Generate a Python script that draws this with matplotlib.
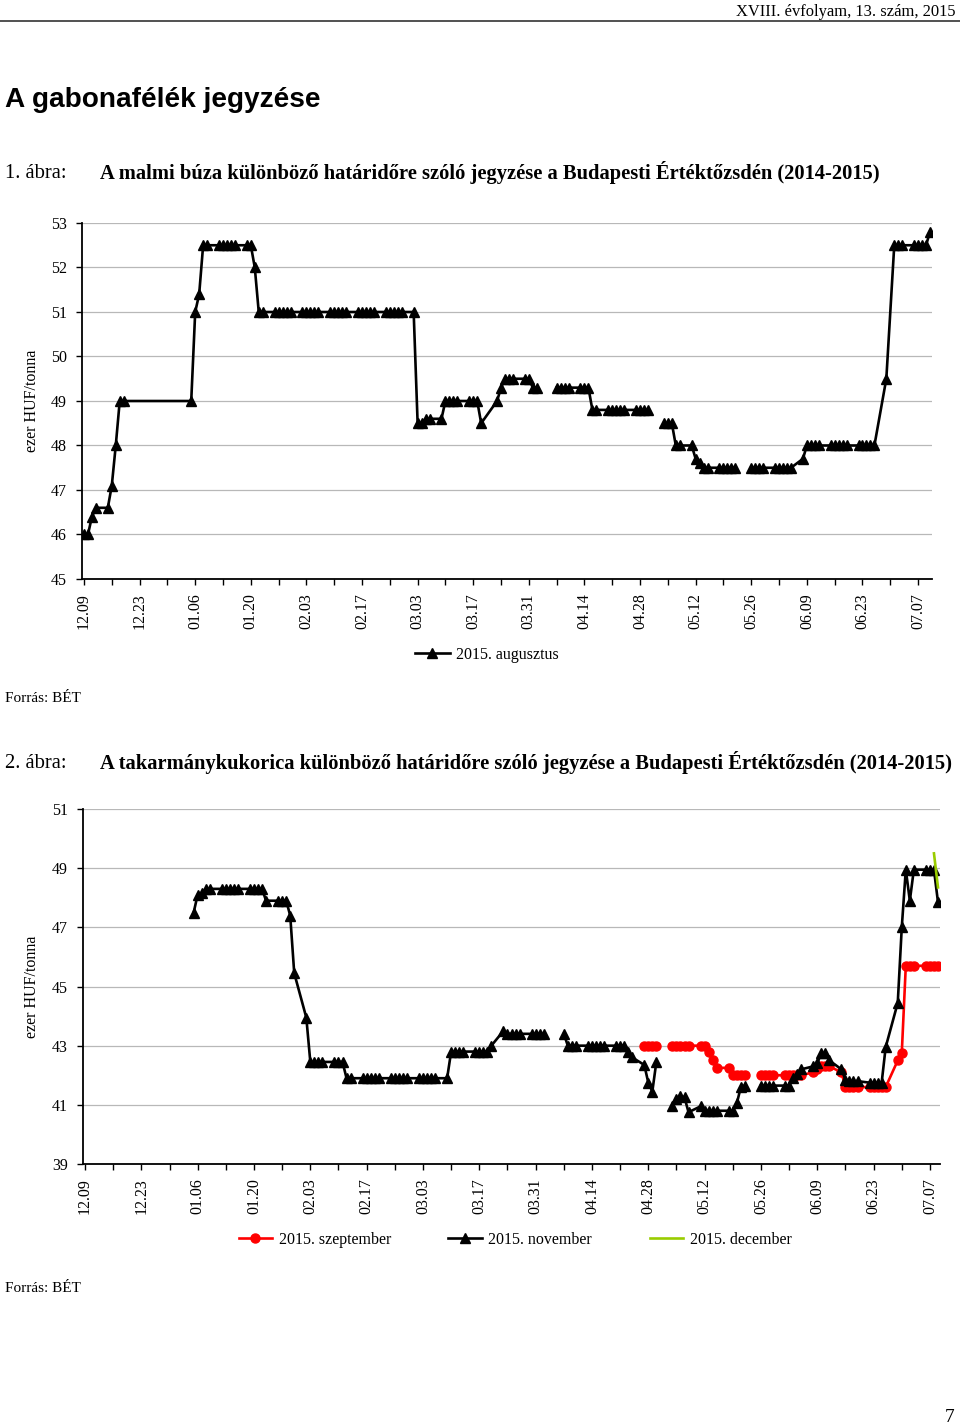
import matplotlib.pyplot as plt
import numpy as np
import pandas as pd
from matplotlib.lines import Line2D

plt.rcParams['font.family'] = ['Liberation Serif', 'DejaVu Serif']

W, H = 960, 1426  # képpont

# --- 1. ábra: malmi búza, 2015. augusztus (ezer HUF/tonna) ---
aug_dates = ["12.09", "12.10", "12.11", "12.12", "12.15", "12.16", "12.17", "12.18", "12.19",
             "01.05", "01.06", "01.07", "01.08", "01.09", "01.12", "01.13", "01.14", "01.15", "01.16",
             "01.19", "01.20", "01.21", "01.22", "01.23",
             "01.26", "01.27", "01.28", "01.29", "01.30", "02.02", "02.03", "02.04", "02.05", "02.06",
             "02.09", "02.10", "02.11", "02.12", "02.13",
             "02.16", "02.17", "02.18", "02.19", "02.20", "02.23", "02.24", "02.25", "02.26", "02.27", "03.02",
             "03.03", "03.04", "03.05", "03.06", "03.09", "03.10", "03.11", "03.12", "03.13",
             "03.16", "03.17", "03.18", "03.19",
             "03.23", "03.24", "03.25", "03.26", "03.27", "03.30", "03.31", "04.01", "04.02", "04.03",
             "04.07", "04.08", "04.09", "04.10", "04.13", "04.14", "04.15", "04.16", "04.17",
             "04.20", "04.21", "04.22", "04.23", "04.24",
             "04.27", "04.28", "04.29", "04.30", "05.01",
             "05.04", "05.05", "05.06", "05.07", "05.08", "05.11", "05.12", "05.13", "05.14", "05.15",
             "05.18", "05.19", "05.20", "05.21", "05.22", "05.25",
             "05.26", "05.27", "05.28", "05.29", "06.01", "06.02", "06.03", "06.04", "06.05",
             "06.08", "06.09", "06.10", "06.11", "06.12",
             "06.15", "06.16", "06.17", "06.18", "06.19", "06.22", "06.23", "06.24", "06.25", "06.26", "06.29",
             "07.01", "07.02", "07.03", "07.06", "07.07", "07.08", "07.09", "07.10"]
aug_vals = [46.0, 46.0, 46.4, 46.6, 46.6, 47.1, 48.0, 49.0, 49.0,
            49.0, 51.0, 51.4, 52.5, 52.5, 52.5, 52.5, 52.5, 52.5, 52.5,
            52.5, 52.5, 52.0, 51.0, 51.0,
            51.0, 51.0, 51.0, 51.0, 51.0, 51.0, 51.0, 51.0, 51.0, 51.0,
            51.0, 51.0, 51.0, 51.0, 51.0,
            51.0, 51.0, 51.0, 51.0, 51.0, 51.0, 51.0, 51.0, 51.0, 51.0, 51.0,
            48.5, 48.5, 48.6, 48.6, 48.6, 49.0, 49.0, 49.0, 49.0,
            49.0, 49.0, 49.0, 48.5,
            49.0, 49.3, 49.5, 49.5, 49.5, 49.5, 49.5, 49.3, 49.3, np.nan,
            49.3, 49.3, 49.3, 49.3, 49.3, 49.3, 49.3, 48.8, 48.8,
            48.8, 48.8, 48.8, 48.8, 48.8,
            48.8, 48.8, 48.8, 48.8, np.nan,
            48.5, 48.5, 48.5, 48.0, 48.0, 48.0, 47.7, 47.6, 47.5, 47.5,
            47.5, 47.5, 47.5, 47.5, 47.5, np.nan,
            47.5, 47.5, 47.5, 47.5, 47.5, 47.5, 47.5, 47.5, 47.5,
            47.7, 48.0, 48.0, 48.0, 48.0,
            48.0, 48.0, 48.0, 48.0, 48.0, 48.0, 48.0, 48.0, 48.0, 48.0, 49.5,
            52.5, 52.5, 52.5, 52.5, 52.5, 52.5, 52.5, 52.8]

# --- 2. ábra: takarmánykukorica ---
nov_dates = ["01.05", "01.06", "01.07", "01.08", "01.09",
             "01.12", "01.13", "01.14", "01.15", "01.16",
             "01.19", "01.20", "01.21", "01.22", "01.23",
             "01.26", "01.27", "01.28", "01.29", "01.30",
             "02.02", "02.03", "02.04", "02.05", "02.06",
             "02.09", "02.10", "02.11", "02.12", "02.13",
             "02.16", "02.17", "02.18", "02.19", "02.20",
             "02.23", "02.24", "02.25", "02.26", "02.27",
             "03.02", "03.03", "03.04", "03.05", "03.06",
             "03.09", "03.10", "03.11", "03.12", "03.13",
             "03.16", "03.17", "03.18", "03.19", "03.20",
             "03.23", "03.24", "03.25", "03.26", "03.27",
             "03.30", "03.31", "04.01", "04.02", "04.03",
             "04.07", "04.08", "04.09", "04.10",
             "04.13", "04.14", "04.15", "04.16", "04.17",
             "04.20", "04.21", "04.22", "04.23", "04.24",
             "04.27", "04.28", "04.29", "04.30", "05.01",
             "05.04", "05.05", "05.06", "05.07", "05.08",
             "05.11", "05.12", "05.13", "05.14", "05.15",
             "05.18", "05.19", "05.20", "05.21", "05.22", "05.25",
             "05.26", "05.27", "05.28", "05.29",
             "06.01", "06.02", "06.03", "06.04", "06.05",
             "06.08", "06.09", "06.10", "06.11", "06.12",
             "06.15", "06.16", "06.17", "06.18", "06.19",
             "06.22", "06.23", "06.24", "06.25", "06.26",
             "06.29", "06.30", "07.01", "07.02", "07.03",
             "07.06", "07.07", "07.08", "07.09"]
nov_vals = [47.5, 48.1, 48.15, 48.3, 48.3,
            48.3, 48.3, 48.3, 48.3, 48.3,
            48.3, 48.3, 48.3, 48.3, 47.9,
            47.9, 47.9, 47.9, 47.4, 45.45,
            43.95, 42.45, 42.45, 42.45, 42.45,
            42.45, 42.45, 42.45, 41.9, 41.9,
            41.9, 41.9, 41.9, 41.9, 41.9,
            41.9, 41.9, 41.9, 41.9, 41.9,
            41.9, 41.9, 41.9, 41.9, 41.9,
            41.9, 42.8, 42.8, 42.8, 42.8,
            42.8, 42.8, 42.8, 42.8, 43.0,
            43.5, 43.4, 43.4, 43.4, 43.4,
            43.4, 43.4, 43.4, 43.4, np.nan,
            43.4, 43.0, 43.0, 43.0,
            43.0, 43.0, 43.0, 43.0, 43.0,
            43.0, 43.0, 43.0, 42.8, 42.6,
            42.35, 41.75, 41.45, 42.45, np.nan,
            40.95, 41.2, 41.3, 41.25, 40.75,
            40.95, 40.8, 40.8, 40.8, 40.8,
            40.8, 40.8, 41.05, 41.6, 41.65, np.nan,
            41.65, 41.65, 41.65, 41.65,
            41.65, 41.65, 41.9, 42.05, 42.2,
            42.3, 42.4, 42.75, 42.75, 42.5,
            42.2, 41.85, 41.8, 41.8, 41.8,
            41.75, 41.75, 41.75, 41.75, 42.95,
            44.45, 47.0, 48.95, 47.9, 48.95,
            48.95, 48.95, 48.95, 47.85]

sep_dates = ["04.27", "04.28", "04.29", "04.30", "05.01",
             "05.04", "05.05", "05.06", "05.07", "05.08",
             "05.11", "05.12", "05.13", "05.14", "05.15",
             "05.18", "05.19", "05.20", "05.21", "05.22", "05.25",
             "05.26", "05.27", "05.28", "05.29",
             "06.01", "06.02", "06.03", "06.04", "06.05",
             "06.08", "06.09", "06.10", "06.11", "06.12",
             "06.15", "06.16", "06.17", "06.18", "06.19",
             "06.22", "06.23", "06.24", "06.25", "06.26",
             "06.29", "06.30", "07.01", "07.02", "07.03",
             "07.06", "07.07", "07.08", "07.09"]
sep_vals = [43.0, 43.0, 43.0, 43.0, np.nan,
            43.0, 43.0, 43.0, 43.0, 43.0,
            43.0, 43.0, 42.8, 42.5, 42.25,
            42.25, 42.0, 42.0, 42.0, 42.0, np.nan,
            42.0, 42.0, 42.0, 42.0,
            42.0, 42.0, 42.0, 42.0, 42.0,
            42.1, 42.2, 42.3, 42.3, 42.3,
            42.1, 41.6, 41.6, 41.6, 41.6,
            41.6, 41.6, 41.6, 41.6, 41.6,
            42.5, 42.75, 45.7, 45.7, 45.7,
            45.7, 45.7, 45.7, 45.7]

dec_dates = ["07.08", "07.09"]
dec_vals = [49.5, 48.35]

tick_labels = ["12.09", "12.23", "01.06", "01.20", "02.03", "02.17", "03.03", "03.17",
               "03.31", "04.14", "04.28", "05.12", "05.26", "06.09", "06.23", "07.07"]


def to_day(labels):
    # "HH.NN" -> nap 2014.12.09-től (december 2014, többi 2015)
    start = pd.Timestamp("2014-12-09")
    out = []
    for s in labels:
        m, d = int(s[:2]), int(s[3:])
        y = 2014 if m == 12 else 2015
        out.append((pd.Timestamp(year=y, month=m, day=d) - start).days)
    return np.array(out)


def fx(x):
    return x / W


def fy(y):
    return 1 - y / H


def style_axes(ax, ymin, ymax, ystep, xmax):
    ax.set_ylim(ymin, ymax)
    ax.set_yticks(np.arange(ymin, ymax + 0.1, ystep))
    ax.set_xlim(-0.5, xmax)
    ax.set_xticks(to_day(tick_labels))
    ax.set_xticklabels(tick_labels, rotation=90)
    ax.set_xticks(np.arange(0, xmax, 7), minor=True)
    ax.grid(True, axis='y', color='#b8b8b8', lw=0.9)
    ax.set_axisbelow(True)
    for s in ['top', 'right']:
        ax.spines[s].set_visible(False)
    for s in ['left', 'bottom']:
        ax.spines[s].set_linewidth(1.3)
    ax.tick_params(axis='both', which='both', direction='out', length=4, width=1.0,
                   labelsize=11.5, colors='black')
    ax.tick_params(axis='y', pad=7)
    ax.tick_params(axis='x', pad=6)
    ax.set_ylabel('ezer HUF/tonna', fontsize=11.5)


fig = plt.figure(figsize=(W / 100, H / 100), dpi=100)

# fejléc
fig.text(fx(955), fy(16), 'XVIII. évfolyam, 13. szám, 2015', ha='right', va='baseline', fontsize=11.9)
fig.add_artist(Line2D([0, 1], [fy(21), fy(21)], color='#333333', lw=1.2))
fig.text(fx(5), fy(100), 'A gabonafélék jegyzése', ha='left', va='center', fontsize=20.2,
         fontweight='bold', family='Liberation Sans')

fig.text(fx(5), fy(173), '1. ábra:', ha='left', va='center', fontsize=14.8)
fig.text(fx(100), fy(173), 'A malmi búza különböző határidőre szóló jegyzése a Budapesti Értéktőzsdén (2014-2015)',
         ha='left', va='center', fontsize=14.8, fontweight='bold')

# 1. ábra
ax1 = fig.add_axes([fx(82), fy(579), (932 - 82) / W, (579 - 223) / H])
ax1.plot(to_day(aug_dates), aug_vals, color='black', lw=1.9, marker='^', ms=7.5,
         label='2015. augusztus')
style_axes(ax1, 45, 53, 1, 213.5)
ax1.yaxis.set_label_coords((40 - 82) / 850, 0.5)
fig.legend(handles=ax1.get_lines(), loc='center', bbox_to_anchor=(fx(487), fy(655)),
           frameon=False, fontsize=11.5, handlelength=2.2, handletextpad=0.4)

fig.text(fx(5), fy(698), 'Forrás: BÉT', ha='left', va='center', fontsize=11)

fig.text(fx(5), fy(763), '2. ábra:', ha='left', va='center', fontsize=14.8)
fig.text(fx(100), fy(763), 'A takarmánykukorica különböző határidőre szóló jegyzése a Budapesti Értéktőzsdén (2014-2015)',
         ha='left', va='center', fontsize=14.8, fontweight='bold')

# 2. ábra
ax2 = fig.add_axes([fx(83), fy(1164), (940 - 83) / W, (1164 - 809) / H])
l_sep, = ax2.plot(to_day(sep_dates), sep_vals, color='#ff0000', lw=1.9, marker='o', ms=6.5,
                  label='2015. szeptember')
l_nov, = ax2.plot(to_day(nov_dates), nov_vals, color='black', lw=1.9, marker='^', ms=7.5,
                  label='2015. november')
l_dec, = ax2.plot(to_day(dec_dates), dec_vals, color='#99cc00', lw=1.9, label='2015. december')
style_axes(ax2, 39, 51, 2, 212.5)
ax2.yaxis.set_label_coords((40 - 83) / 857, 0.5)
fig.legend(handles=[l_sep, l_nov, l_dec], loc='center', bbox_to_anchor=(fx(515), fy(1240)),
           ncol=3, frameon=False, fontsize=11.5, handlelength=2.1, handletextpad=0.4,
           columnspacing=3.6)

fig.text(fx(5), fy(1288), 'Forrás: BÉT', ha='left', va='center', fontsize=11)
fig.text(fx(955), fy(1418), '7', ha='right', va='center', fontsize=14)

fig.savefig('out.png', dpi=100)
